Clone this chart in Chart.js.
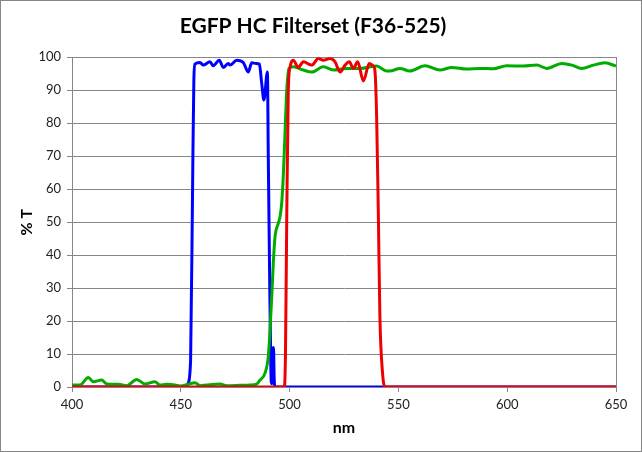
<!DOCTYPE html>
<html lang="en">
<head>
<meta charset="UTF-8">
<title>EGFP HC Filterset (F36-525)</title>
<script src="https://cdn.jsdelivr.net/npm/chart.js"></script>
<style>
  html, body { margin: 0; padding: 0; background: #fff; }
  #wrap { width: 642px; height: 452px; }
</style>
</head>
<body>
<div id="wrap"><canvas id="filterChart"></canvas></div>
<script>
// values (wavelength in nm, transmission in %)
const excitationNm = [400, 452.5, 453.3, 454.5, 455.5, 456.0, 456.5, 458.8, 460.3, 463.4, 464.9, 467.7, 469.5, 471.8, 472.6,
  475.7, 478.7, 481.0, 482.6, 484.6, 486.1, 487.2, 488.2, 489.8, 490.2, 490.8, 491.4, 491.7, 492.0, 492.3, 492.6, 492.9, 493.2, 650];
const excitationT = [0, 0, 1, 8, 66, 93, 97.9, 98.4, 97.6, 98.6, 97.4, 99.1, 96.9, 98.1, 97.6,
  99.1, 98.4, 95.5, 98.3, 98.1, 97.9, 92, 87, 95.5, 70, 35, 5, 1, 2, 11, 12, 3, 0, 0];

const dichroicNm = [400, 403.7, 407.5, 409.8, 413.6, 416.0, 421.3, 425.1, 429.7, 433.5, 438.1, 440.4, 443.5, 447.3, 449.6,
  456.5, 458.8, 468.0, 471.1, 477.0, 481.8, 484.9, 486.4, 488.7, 490.2, 491.0, 491.8, 492.5, 493.3, 494.8, 495.6, 496.4,
  497.1, 497.6, 498.7, 499.7, 501.7, 506.3, 510.2, 515.5, 520.1, 526.2, 532.4, 540.0, 544.6, 546.1, 550.7, 555.3, 562.2,
  569.1, 574.5, 581.4, 587.5, 593.6, 599.8, 607.4, 613.6, 618.2, 625.1, 629.7, 634.2, 639.6, 644.9, 650];
const dichroicT = [0.6, 0.6, 2.9, 1.6, 2.1, 0.9, 0.8, 0.4, 2.3, 0.9, 1.6, 0.6, 0.8, 0.6, 0.3,
  1.3, 0.4, 0.9, 0.4, 0.5, 0.6, 0.9, 2.1, 4.2, 9.2, 17.3, 27.4, 37.5, 45.5, 49.6, 51.6, 56,
  64, 72, 90, 96.6, 97.1, 96.1, 95.5, 97.1, 96.1, 96.6, 96.6, 97.3, 95.8, 95.8, 96.6, 95.8, 97.4,
  96.1, 96.9, 96.4, 96.6, 96.5, 97.4, 97.3, 97.6, 96.6, 98.1, 97.6, 96.6, 97.6, 98.3, 97.3];

const emissionNm = [400, 497.6, 498.1, 498.7, 499.4, 500.2, 501.0, 501.7, 504.0, 506.3, 510.2, 513.2, 515.5, 518.6, 520.9,
  523.2, 525.5, 527.4, 529.3, 531.3, 533.9, 536.6, 538.5, 539.2, 540.0, 540.8, 541.5, 542.6, 543.8, 650];
const emissionT = [0, 0, 10, 52, 90, 97, 98.8, 99.1, 96.9, 98.6, 97.6, 99.6, 99.1, 99.6, 98.6,
  95.5, 97.6, 98.6, 96.6, 98.6, 92.8, 98.1, 97.3, 96, 81.9, 51.6, 21.3, 5.2, 0, 0];

const xRange = [400, 650];
const yRange = [0, 100];

function toPoints(nm, t) {
  return nm.map((x, i) => ({ x: x, y: t[i] }));
}

// plot-area frame and the outer picture border
const frames = {
  id: 'frames',
  beforeDatasetsDraw(chart) {
    const { ctx, chartArea: a } = chart;
    ctx.save();
    ctx.strokeStyle = '#868686';
    ctx.lineWidth = 1;
    ctx.strokeRect(Math.round(a.left) + 0.5, Math.round(a.top) + 0.5,
      Math.round(a.right - a.left), Math.round(a.bottom - a.top));
    ctx.restore();
  },
  afterDraw(chart) {
    const { ctx, width, height } = chart;
    ctx.save();
    ctx.strokeStyle = '#868686';
    ctx.lineWidth = 1;
    ctx.strokeRect(0.5, 0.5, width - 1, height - 1);
    ctx.restore();
  }
};

const tickFont = { family: 'Lato', size: 13 };
const gridColor = '#868686';

new Chart(document.getElementById('filterChart'), {
  type: 'line',
  data: {
    datasets: [
      // lower order is painted last, so red ends up on top
      { label: 'Excitation', data: toPoints(excitationNm, excitationT), borderColor: '#0000ff', order: 3 },
      { label: 'Dichroic', data: toPoints(dichroicNm, dichroicT), borderColor: '#00ac00', order: 2 },
      { label: 'Emission', data: toPoints(emissionNm, emissionT), borderColor: '#ee0000', order: 1 }
    ]
  },
  options: {
    responsive: true,
    maintainAspectRatio: false,
    animation: false,
    layout: { padding: { left: 10, right: 26, top: 0, bottom: 10 } },
    elements: {
      point: { radius: 0 },
      line: { borderWidth: 3, cubicInterpolationMode: 'monotone' }
    },
    plugins: {
      legend: { display: false },
      tooltip: { enabled: false },
      title: {
        display: true,
        text: 'EGFP HC Filterset (F36-525)',
        color: '#000',
        font: { family: 'Lato', size: 21, weight: 'bold', lineHeight: 1.2 },
        padding: { top: 14, bottom: 18 }
      }
    },
    scales: {
      x: {
        type: 'linear',
        min: xRange[0],
        max: xRange[1],
        ticks: { stepSize: 50, color: '#222', font: tickFont, padding: 5, maxRotation: 0 },
        grid: { drawOnChartArea: false, color: gridColor, tickLength: 5 },
        border: { color: gridColor },
        title: { display: true, text: 'nm', color: '#000',
          font: { family: 'Lato', size: 16, weight: 'bold', lineHeight: 1.2 }, padding: { bottom: 5 } },
        afterFit(scale) { scale.height = 55; }
      },
      y: {
        min: yRange[0],
        max: yRange[1],
        ticks: { stepSize: 10, color: '#222', font: tickFont, padding: 6 },
        grid: { color: gridColor, tickLength: 5 },
        border: { color: gridColor },
        title: { display: true, text: '% T', color: '#000',
          font: { family: 'Lato', size: 16, weight: 'bold', lineHeight: 1.2 }, padding: { top: 7 } },
        afterFit(scale) { scale.width = 62; }
      }
    }
  },
  plugins: [frames]
});
</script>
</body>
</html>
